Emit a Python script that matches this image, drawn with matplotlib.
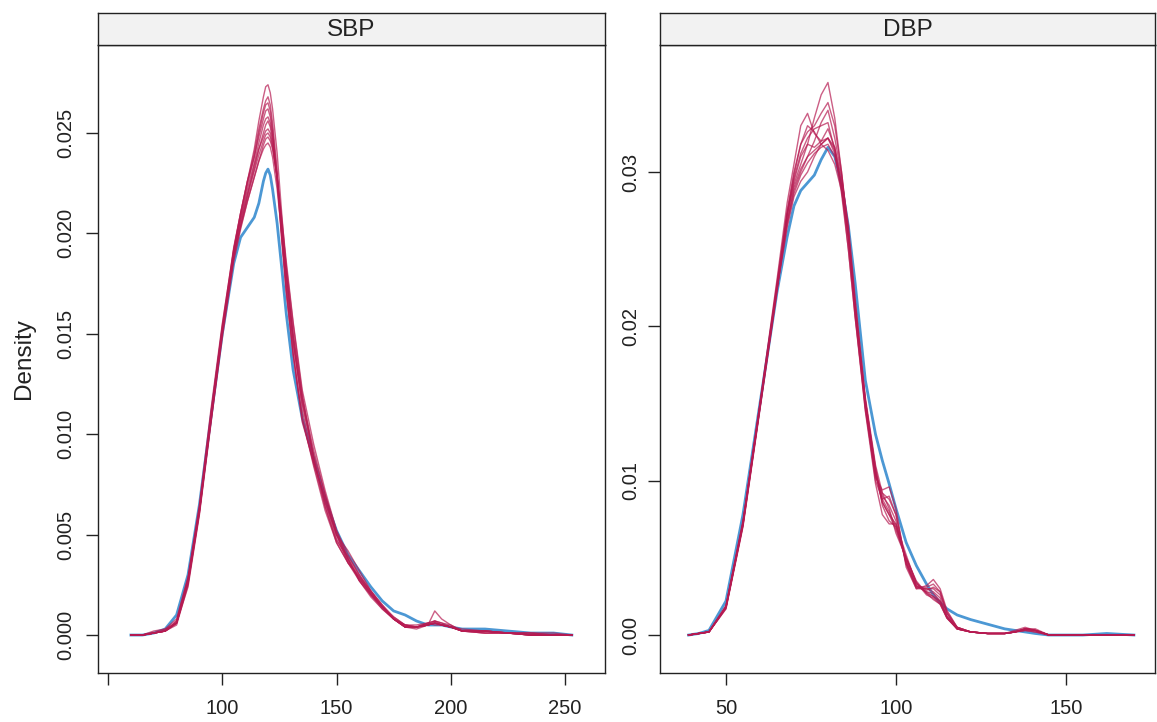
import matplotlib
matplotlib.use("Agg")
import matplotlib.pyplot as plt

plt.rcParams['font.family'] = ['Liberation Sans', 'DejaVu Sans']

# ---------------- data (density x 1e4) ----------------
sbp_x = [60, 65, 70, 75, 80, 85, 90, 95, 100, 105, 108, 111, 114, 116, 118, 119, 120, 121, 122, 124,
         126, 128, 131, 135, 140, 145, 150, 155, 160, 165, 170, 175, 180, 185, 190, 193, 196, 200, 205, 215,
         225, 235, 245, 253]
sbp_obs = [0, 0, 1, 3, 10, 30, 65, 108, 150, 185, 198, 203, 208, 215, 226, 230, 232, 229, 222, 205,
           183, 160, 132, 108, 88, 68, 52, 40, 32, 24, 17, 12, 10, 7, 5, 5, 5, 4, 3, 3, 2, 1, 1, 0]
sbp_imp1 = [0, 0, 1, 2, 6, 26, 62, 108, 152, 190, 207, 222, 235, 245, 254, 257, 258, 255, 248, 228, 202, 178, 145, 115, 88, 66, 48, 37, 28, 21, 14, 8, 4, 4, 5, 6, 5, 4, 2, 2, 1, 1, 0, 0]
sbp_imp2 = [0, 0, 1, 2, 7, 28, 65, 112, 155, 192, 210, 226, 242, 256, 268, 273, 274, 270, 262, 240, 210, 182, 148, 112, 86, 68, 50, 38, 29, 20, 13, 8, 5, 4, 6, 7, 6, 4, 2, 1, 1, 0, 0, 0]
sbp_imp3 = [0, 0, 2, 3, 6, 24, 60, 105, 150, 188, 203, 216, 228, 236, 242, 244, 245, 243, 238, 222, 200, 180, 150, 118, 92, 70, 50, 38, 27, 20, 14, 9, 5, 5, 6, 5, 5, 4, 2, 2, 1, 1, 0, 0]
sbp_imp4 = [0, 0, 1, 2, 6, 27, 63, 110, 154, 193, 210, 226, 238, 248, 257, 261, 262, 258, 250, 228, 200, 172, 140, 108, 85, 64, 46, 36, 29, 22, 15, 8, 4, 3, 5, 12, 8, 5, 2, 1, 1, 0, 0, 0]
sbp_imp5 = [0, 0, 1, 3, 8, 29, 64, 106, 148, 186, 202, 216, 228, 236, 244, 247, 248, 246, 242, 228, 208, 186, 156, 122, 95, 72, 52, 40, 30, 22, 15, 9, 5, 4, 5, 6, 5, 4, 2, 2, 1, 1, 1, 0]
sbp_imp6 = [0, 0, 1, 2, 5, 25, 61, 107, 151, 191, 208, 224, 238, 250, 260, 264, 265, 261, 252, 228, 196, 170, 140, 108, 84, 62, 46, 36, 28, 21, 14, 8, 4, 4, 6, 7, 6, 5, 2, 2, 1, 0, 0, 0]
sbp_imp7 = [0, 0, 1, 2, 6, 27, 62, 109, 153, 190, 206, 220, 232, 242, 250, 254, 256, 253, 246, 226, 198, 175, 146, 116, 90, 70, 52, 38, 27, 19, 13, 8, 4, 4, 5, 6, 5, 4, 2, 1, 1, 0, 0, 0]
sbp_imp8 = [0, 0, 1, 2, 7, 28, 63, 108, 150, 188, 204, 219, 234, 242, 248, 251, 252, 250, 244, 228, 206, 184, 155, 120, 88, 66, 50, 42, 32, 22, 14, 8, 4, 4, 5, 6, 5, 4, 3, 2, 1, 0, 0, 0]
sbp_imp9 = [0, 0, 1, 2, 6, 26, 61, 106, 152, 192, 210, 226, 240, 252, 262, 266, 268, 264, 255, 232, 200, 172, 140, 106, 86, 68, 50, 36, 27, 20, 14, 8, 4, 4, 5, 6, 5, 4, 2, 2, 1, 0, 0, 0]
sbp_imp10 = [0, 0, 1, 2, 6, 26, 62, 108, 151, 189, 204, 218, 231, 239, 246, 249, 250, 248, 243, 228, 204, 180, 150, 118, 88, 64, 47, 39, 30, 21, 14, 8, 5, 4, 5, 7, 5, 4, 2, 2, 1, 0, 0, 0]

dbp_x = [39, 42, 45, 50, 55, 60, 65, 68, 70, 72, 74, 76, 78, 80, 82, 84, 86, 88, 91, 94,
         96, 98, 100, 103, 106, 109, 111, 113, 115, 118, 122, 127, 132, 135, 138, 141, 145, 155, 162, 170]
dbp_obs = [0, 1, 3, 22, 78, 150, 222, 258, 278, 288, 293, 298, 308, 316, 310, 292, 265, 228, 165, 130,
           113, 98, 82, 60, 45, 33, 26, 21, 17, 13, 10, 7, 4, 3, 2, 1, 0, 0, 1, 0]
dbp_imp1 = [0, 1, 2, 18, 72, 148, 225, 268, 290, 302, 310, 314, 318, 322, 312, 290, 256, 212, 150, 104, 86, 78, 72, 48, 32, 28, 27, 22, 12, 4, 2, 1, 1, 2, 4, 3, 0, 0, 0, 0]
dbp_imp2 = [0, 1, 2, 19, 74, 150, 228, 275, 300, 318, 326, 330, 338, 345, 330, 300, 260, 214, 148, 100, 88, 90, 78, 46, 30, 30, 30, 26, 14, 5, 2, 1, 1, 2, 3, 2, 0, 0, 0, 0]
dbp_imp3 = [0, 1, 2, 17, 70, 146, 222, 272, 298, 318, 330, 326, 318, 314, 305, 288, 258, 210, 152, 108, 84, 74, 70, 50, 34, 26, 24, 20, 11, 4, 2, 1, 1, 2, 4, 3, 0, 0, 0, 0]
dbp_imp4 = [0, 1, 2, 18, 73, 149, 226, 272, 292, 305, 318, 335, 350, 358, 335, 300, 262, 208, 146, 102, 94, 96, 82, 44, 30, 32, 36, 30, 16, 5, 2, 1, 1, 3, 5, 3, 0, 0, 0, 0]
dbp_imp5 = [0, 1, 2, 18, 71, 147, 224, 266, 286, 298, 306, 312, 316, 318, 310, 292, 262, 216, 154, 110, 92, 82, 66, 50, 35, 27, 23, 20, 11, 4, 2, 1, 1, 2, 3, 2, 0, 0, 0, 0]
dbp_imp6 = [0, 1, 2, 19, 73, 150, 230, 280, 305, 330, 338, 325, 320, 322, 314, 290, 250, 206, 145, 98, 78, 72, 72, 52, 33, 29, 31, 28, 14, 4, 2, 1, 1, 2, 4, 4, 0, 0, 0, 0]
dbp_imp7 = [0, 1, 2, 18, 72, 148, 225, 268, 288, 300, 310, 320, 332, 340, 322, 298, 260, 212, 150, 104, 90, 84, 74, 46, 31, 30, 28, 24, 12, 5, 2, 1, 1, 2, 4, 3, 0, 0, 0, 0]
dbp_imp8 = [0, 1, 2, 17, 71, 147, 223, 272, 294, 310, 318, 316, 320, 328, 316, 292, 258, 214, 152, 106, 86, 78, 68, 50, 34, 27, 25, 22, 12, 4, 2, 1, 1, 2, 3, 3, 0, 0, 0, 0]
dbp_imp9 = [0, 1, 2, 18, 72, 148, 226, 274, 296, 312, 322, 328, 330, 332, 314, 286, 250, 206, 148, 104, 92, 88, 78, 47, 31, 31, 33, 28, 15, 5, 2, 1, 1, 2, 4, 3, 0, 0, 0, 0]
dbp_imp10 = [0, 1, 2, 18, 72, 149, 224, 264, 284, 294, 300, 310, 318, 322, 316, 296, 266, 218, 152, 108, 88, 80, 70, 48, 32, 28, 25, 21, 11, 4, 2, 1, 1, 2, 4, 3, 0, 0, 0, 0]

panel_titles = ["SBP", "DBP"]
sbp_xticks = [50, 100, 150, 200, 250]
sbp_xticklabels = ["", "100", "150", "200", "250"]
sbp_yticks = [0.000, 0.005, 0.010, 0.015, 0.020, 0.025]
sbp_yticklabels = ["0.000", "0.005", "0.010", "0.015", "0.020", "0.025"]
dbp_xticks = [50, 100, 150]
dbp_xticklabels = ["50", "100", "150"]
dbp_yticks = [0.00, 0.01, 0.02, 0.03]
dbp_yticklabels = ["0.00", "0.01", "0.02", "0.03"]

SCALE = 1e-4
BLUE = (0 / 255, 108 / 255, 194 / 255, 0.7)
RED = (182 / 255, 26 / 255, 81 / 255, 0.7)
INK = '#222222'

W, H = 1157, 722
fig = plt.figure(figsize=(W / 100, H / 100), dpi=100)


def frac(x0, y0, x1, y1):
    return [x0 / W, 1 - y1 / H, (x1 - x0) / W, (y1 - y0) / H]


panels = [
    dict(rect=(98, 45, 605, 673), x=sbp_x, obs=sbp_obs,
         imps=[sbp_imp1, sbp_imp2, sbp_imp3, sbp_imp4, sbp_imp5, sbp_imp6, sbp_imp7, sbp_imp8, sbp_imp9, sbp_imp10],
         xlim=(45.6, 267.5), ylim=(-0.00189, 0.02938),
         xt=sbp_xticks, xtl=sbp_xticklabels, yt=sbp_yticks, ytl=sbp_yticklabels, title=panel_titles[0], ypad=8),
    dict(rect=(660, 45, 1155, 673), x=dbp_x, obs=dbp_obs,
         imps=[dbp_imp1, dbp_imp2, dbp_imp3, dbp_imp4, dbp_imp5, dbp_imp6, dbp_imp7, dbp_imp8, dbp_imp9, dbp_imp10],
         xlim=(30.6, 176.2), ylim=(-0.00246, 0.03823),
         xt=dbp_xticks, xtl=dbp_xticklabels, yt=dbp_yticks, ytl=dbp_yticklabels, title=panel_titles[1], ypad=6),
]

for p in panels:
    x0, y0, x1, y1 = p["rect"]
    ax = fig.add_axes(frac(x0, y0, x1, y1))
    ax.plot(p["x"], [v * SCALE for v in p["obs"]], color=BLUE, lw=2.0, solid_joinstyle='round')
    for imp in p["imps"]:
        ax.plot(p["x"], [v * SCALE for v in imp], color=RED, lw=1.0, solid_joinstyle='round')
    ax.set_xlim(*p["xlim"])
    ax.set_ylim(*p["ylim"])
    ax.set_xticks(p["xt"])
    ax.set_xticklabels(p["xtl"])
    ax.set_yticks(p["yt"])
    ax.set_yticklabels(p["ytl"], rotation=90, va='center')
    ax.tick_params(axis='x', length=8.5, width=1.0, pad=10, labelsize=14.5, colors=INK, top=False)
    ax.tick_params(axis='y', length=8.5, width=1.0, pad=p["ypad"], labelsize=14.5, colors=INK, right=False)
    for s in ax.spines.values():
        s.set_linewidth(1.0)
        s.set_color(INK)
    # strip
    sax = fig.add_axes(frac(x0, 13, x1, y0))
    sax.set_xticks([])
    sax.set_yticks([])
    sax.set_facecolor('#F2F2F2')
    for s in sax.spines.values():
        s.set_linewidth(1.0)
        s.set_color(INK)
    sax.text(0.5, 0.46, p["title"], ha='center', va='center', fontsize=17.5, color=INK,
             transform=sax.transAxes)

fig.text(24 / W, 1 - 359 / H, "Density", rotation=90, ha='center', va='center', fontsize=17.5, color=INK)

fig.savefig("out.png", dpi=100)
